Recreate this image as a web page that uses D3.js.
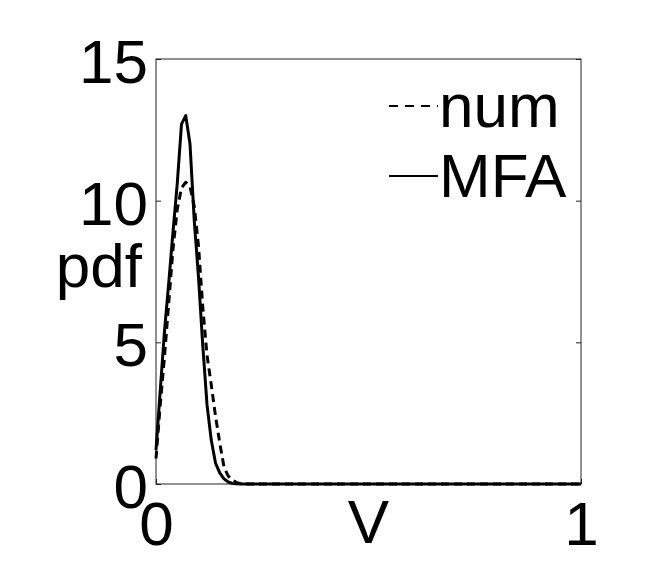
<!DOCTYPE html>
<html>
<head>
<meta charset="utf-8">
<script src="https://cdn.jsdelivr.net/npm/d3@7"></script>
<style>
	body { margin: 0; background: #fff; }
	svg { display: block; font-family: "Liberation Sans", Arial, Helvetica, sans-serif; }
</style>
</head>
<body>
<div id="chart"></div>
<script>
// sample points along V
const vValues = [0, 0.01, 0.02, 0.03, 0.04, 0.05, 0.06, 0.07, 0.08, 0.09, 0.10, 0.11,
	0.12, 0.13, 0.14, 0.15, 0.16, 0.17, 0.18, 0.19, 0.20, 0.21, 0.22, 1];
const numPdf = [0.9, 2.8, 4.5, 6.4, 8.3, 9.7, 10.45, 10.65, 10.5, 9.8, 8.4, 6.25,
	4.55, 3.5, 2.4, 1.45, 0.6, 0.28, 0.14, 0.05, 0.01, 0, 0, 0];
const mfaPdf = [1.2, 3.3, 5.4, 7.1, 8.9, 10.6, 12.7, 13.0, 12.0, 9.3, 7.3, 4.9,
	2.8, 1.55, 0.74, 0.39, 0.18, 0.07, 0.02, 0.005, 0, 0, 0, 0];
const xTicks = [0, 1];
const yTicks = [0, 5, 10, 15];
const seriesNames = ['num', 'MFA'];

const width = 672, height = 563;
const box = {left: 156, right: 581, top: 59, bottom: 484};
const fontSize = 62;

const svg = d3.select('#chart').append('svg')
	.attr('width', width)
	.attr('height', height);

const x = d3.scaleLinear().domain([0, 1]).range([box.left, box.right]);
const y = d3.scaleLinear().domain([0, 15]).range([box.bottom, box.top]);

// frame
svg.append('rect')
	.attr('x', box.left).attr('y', box.top)
	.attr('width', box.right - box.left).attr('height', box.bottom - box.top)
	.attr('fill', 'none').attr('stroke', '#222').attr('stroke-width', 1);

const yLeft = svg.append('g')
	.attr('transform', `translate(${box.left},0)`)
	.call(d3.axisLeft(y).tickValues(yTicks).tickSize(-5).tickPadding(8));
yLeft.selectAll('text').attr('dy', '0.38em');

const yRight = svg.append('g')
	.attr('transform', `translate(${box.right},0)`)
	.call(d3.axisRight(y).tickValues(yTicks).tickSize(-5).tickFormat(''));

const xBottom = svg.append('g')
	.attr('transform', `translate(0,${box.bottom})`)
	.call(d3.axisBottom(x).tickValues(xTicks).tickSize(-5).tickPadding(17).tickFormat(d3.format('d')));

[yLeft, yRight, xBottom].forEach(g => {
	g.select('.domain').remove();
	g.selectAll('line').attr('stroke', '#222');
	g.selectAll('text')
		.attr('fill', '#000')
		.style('font-size', fontSize + 'px')
		.style('font-family', '"Liberation Sans", Arial, Helvetica, sans-serif');
});

// axis labels
svg.append('text')
	.attr('x', (box.left + box.right) / 2).attr('y', 543)
	.attr('text-anchor', 'middle')
	.style('font-size', fontSize + 'px')
	.text('V');

svg.append('text')
	.attr('x', 142).attr('y', 287)
	.attr('text-anchor', 'end')
	.style('font-size', fontSize + 'px')
	.text('pdf');

// curves
const line = d3.line()
	.x(d => x(d[0]))
	.y(d => y(d[1]));

const series = [
	{name: seriesNames[0], values: numPdf, dash: '8,5'},
	{name: seriesNames[1], values: mfaPdf, dash: null}
];

svg.append('g').selectAll('path')
	.data(series)
	.join('path')
	.attr('d', s => line(vValues.map((v, i) => [v, s.values[i]])))
	.attr('fill', 'none')
	.attr('stroke', '#000')
	.attr('stroke-width', 3)
	.attr('stroke-linejoin', 'round')
	.attr('stroke-dasharray', s => s.dash);

// legend
const legend = svg.append('g');
const legendRows = [106, 176];
series.forEach((s, i) => {
	legend.append('line')
		.attr('x1', 389).attr('x2', 438)
		.attr('y1', legendRows[i]).attr('y2', legendRows[i])
		.attr('stroke', '#000')
		.attr('stroke-width', 2)
		.attr('stroke-dasharray', s.dash ? '9,7' : null);
	legend.append('text')
		.attr('x', 439).attr('y', legendRows[i] + 21)
		.style('font-size', fontSize + 'px')
		.text(s.name);
});
</script>
</body>
</html>
